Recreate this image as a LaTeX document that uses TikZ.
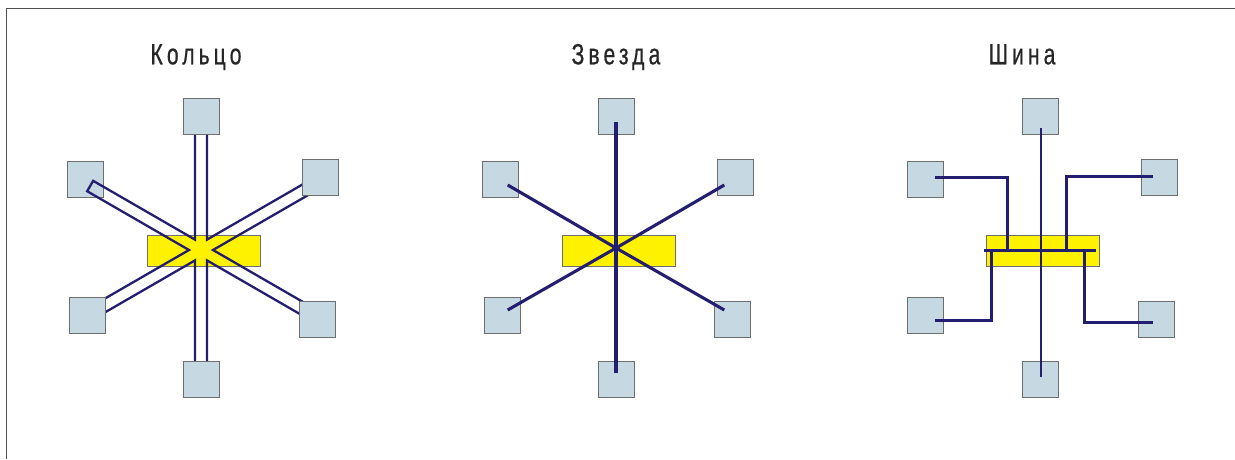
\documentclass[tikz,border=0pt]{standalone}
\usepackage{fontspec}
\usetikzlibrary{calc}
\newfontfamily\titlefont[FakeStretch=0.72,FakeBold=0.6,LetterSpace=14]{Liberation Sans}

\definecolor{boxfill}{RGB}{198,217,227}
\definecolor{boxedge}{RGB}{110,110,110}
\definecolor{hubfill}{RGB}{255,242,0}
\definecolor{wire}{RGB}{36,30,112}
\definecolor{framecol}{RGB}{80,80,80}

\tikzset{
  pc/.style={draw=boxedge, line width=1pt, fill=boxfill, minimum size=36pt, inner sep=0pt},
  hub/.style={draw=boxedge, line width=1pt, fill=hubfill, minimum width=113pt, minimum height=31pt, inner sep=0pt},
  ttl/.style={anchor=base, inner sep=0pt, text=black!85, font=\titlefont\fontsize{29.3}{32}\selectfont},
  ringwire/.style={draw=wire, line width=2.3pt, line join=miter},
  starwire/.style={draw=wire, line width=3.1pt},
  buswire/.style={draw=wire, line width=3pt, line join=miter},
  trunk/.style={draw=wire, line width=2.3pt}
}

\begin{document}
\begin{tikzpicture}[x=1pt,y=-1pt]
\useasboundingbox (0,0) rectangle (1235,459);

% outer frame (top and left edges)
\draw[framecol, line width=1.3pt] (6.5,459) -- (6.5,8.5) -- (1235,8.5);

% titles
\node[ttl] (t1) at (196,64.3) {Кольцо};
\node[ttl] (t2) at (616,64.3) {Звезда};
\node[ttl] (t3) at (1022,64.3) {Шина};

% ---------------- ring ----------------
\node[hub] (rh) at (203.5,250.5) {};
\node[pc] (r2) at (85,179) {};
\coordinate (rc) at (201,250);
\draw[ringwire]
  ($(rc)+(60:12pt)$)
  \foreach \a/\L in {90/120,150/128,210/125,270/120,330/125,30/125}{
    -- ($(rc)+(\a-30:12pt)$)
    -- ($(rc)+(\a:\L pt)+(\a-90:6pt)$)
    -- ($(rc)+(\a:\L pt)+(\a+90:6pt)$)
    -- ($(rc)+(\a+30:12pt)$)
  } -- cycle;
\node[pc] (r1) at (201,116) {};
\node[pc] (r3) at (87,315) {};
\node[pc] (r4) at (201,379) {};
\node[pc] (r5) at (317,319) {};
\node[pc] (r6) at (320,177) {};

% ---------------- star ----------------
\node[hub] (sh) at (619,250.5) {};
\node[pc] (s1) at (616,116) {};
\node[pc] (s2) at (500,179) {};
\node[pc] (s3) at (502,315) {};
\node[pc] (s4) at (616,379) {};
\node[pc] (s5) at (732,319) {};
\node[pc] (s6) at (735,177) {};
\coordinate (sc) at (616,248);
\coordinate (s1e) at (616,121.7);
\coordinate (s4e) at (616,373.3);
\coordinate (s2e) at (507.7,185);
\coordinate (s5e) at (724.3,310);
\coordinate (s6e) at (724.3,185);
\coordinate (s3e) at (507.7,310);
\draw[starwire] (s1e) -- (sc) -- (s4e);
\draw[starwire] (s2e) -- (sc) -- (s5e);
\draw[starwire] (s6e) -- (sc) -- (s3e);

% ---------------- bus ----------------
\node[hub] (bh) at (1042.7,250.5) {};
\node[pc] (b1) at (1040,116) {};
\node[pc] (b2) at (925,179) {};
\node[pc] (b3) at (925,315) {};
\node[pc] (b4) at (1040,379) {};
\node[pc] (b5) at (1156,319) {};
\node[pc] (b6) at (1159.5,177) {};
\coordinate (busL) at (984.3,250);
\coordinate (busR) at (1096,250);
\coordinate (b1e) at (1040.7,128.3);
\coordinate (b4e) at (1040.7,376.7);
\coordinate (b2e) at (935,177.7);
\coordinate (b6e) at (1153.3,176);
\coordinate (b3e) at (935,320.7);
\coordinate (b5e) at (1153.3,322.3);
\coordinate (tap2) at (1007.7,250);
\coordinate (tap6) at (1066.7,250);
\coordinate (tap3) at (991.7,250);
\coordinate (tap5) at (1084,250);
\draw[trunk] (b1e) -- (b4e);
\draw[buswire] (busL) -- (busR);
\draw[buswire] (b2e) -| (tap2);
\draw[buswire] (b6e) -| (tap6);
\draw[buswire] (b3e) -| (tap3);
\draw[buswire] (b5e) -| (tap5);
\end{tikzpicture}
\end{document}
